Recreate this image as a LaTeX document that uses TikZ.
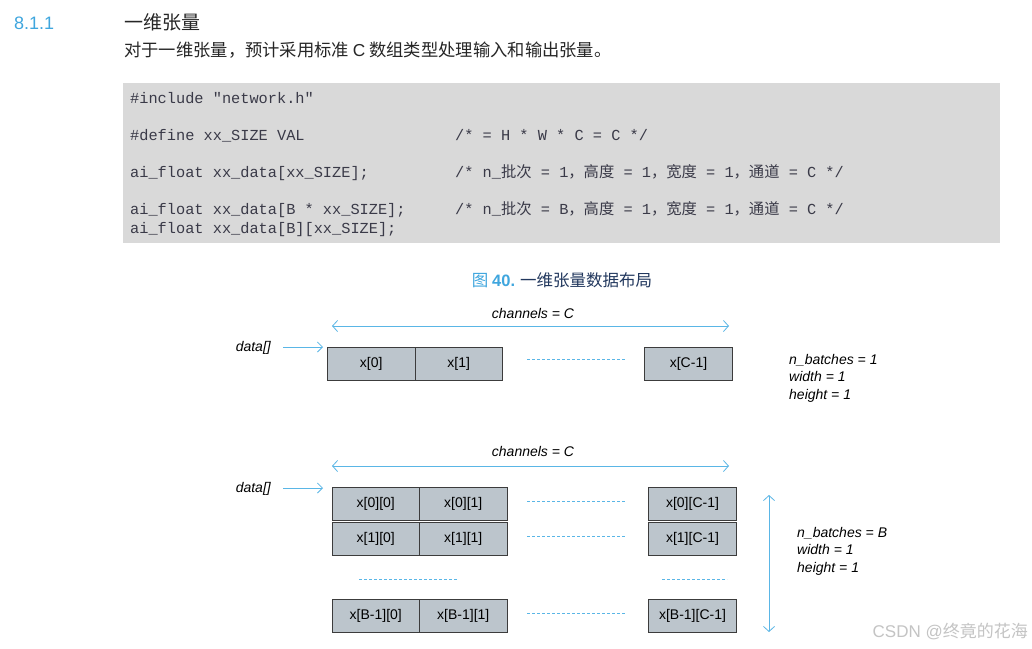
\documentclass[tikz,border=0pt]{standalone}
\usepackage{fontspec}
\setmainfont{Liberation Sans}
\setmonofont{Liberation Mono}
\newfontfamily\cjk{Noto Sans CJK SC}
\usetikzlibrary{arrows.meta}
\definecolor{headblue}{HTML}{3FA6DE}
\definecolor{capnavy}{HTML}{22385E}
\definecolor{bodytext}{HTML}{262626}
\definecolor{codebg}{HTML}{D9D9D9}
\definecolor{codetext}{HTML}{3A3A48}
\definecolor{cellfill}{HTML}{BCC5CC}
\definecolor{cellline}{HTML}{3C3C3C}
\definecolor{lineblue}{HTML}{5AB6E6}
\definecolor{wmgray}{HTML}{C4C4C4}
\tikzset{
  cell/.style={draw=cellline, line width=0.9pt, fill=cellfill, minimum width=87.5pt, minimum height=33pt, inner sep=0pt, font=\fontsize{14}{16}\selectfont},
  codeline/.style={anchor=base west, inner sep=0pt, text=codetext, font=\ttfamily\fontsize{15.3}{17}\selectfont},
  dimarrow/.style={draw=lineblue, line width=0.8pt, {Straight Barb[length=5pt,width=11pt]}-{Straight Barb[length=5pt,width=11pt]}},
  ptrarrow/.style={draw=lineblue, line width=0.8pt, -{Straight Barb[length=5pt,width=10pt]}},
  dotline/.style={draw=lineblue, line width=0.8pt, dash pattern=on 3pt off 2pt},
  itlabel/.style={inner sep=0pt, font=\itshape\fontsize{14}{17.4}\selectfont},
  paramtext/.style={anchor=north west, inner sep=0pt, align=left, font=\itshape\fontsize{14}{17.4}\selectfont}
}
\begin{document}
\begin{tikzpicture}[x=1pt,y=-1pt]
\useasboundingbox[fill=white] (0,0) rectangle (1032,648);
% heading
\node[anchor=base west, inner sep=0pt, text=headblue, font=\fontsize{18}{20}\selectfont] (secnum) at (14,29) {8.1.1};
\node[anchor=base west, inner sep=0pt, text=bodytext, font=\cjk\fontsize{19}{22}\selectfont] (sectitle) at (124,29) {一维张量};
\node[anchor=base west, inner sep=0pt, text=bodytext, font=\cjk\fontsize{17.3}{20}\selectfont] (intro) at (124,56) {对于一维张量，预计采用标准 {\fontspec{Liberation Sans}C} 数组类型处理输入和输出张量。};
% code box
\fill[codebg] (123,83) rectangle (1000,243);
\node[codeline] (c1) at (130,103) {\#include "network.h"};
\node[codeline] (c2) at (130,140) {\#define xx\_SIZE VAL};
\node[codeline] (c3) at (130,177) {ai\_float xx\_data[xx\_SIZE];};
\node[codeline] (c4) at (130,214) {ai\_float xx\_data[B * xx\_SIZE];};
\node[codeline] (c5) at (130,233) {ai\_float xx\_data[B][xx\_SIZE];};
\node[codeline] (m2) at (455,140) {/* = H * W * C = C */};
\node[codeline] (m3) at (455,177) {/* n\_{\cjk 批次} = 1{\cjk ，}{\cjk 高度} = 1{\cjk ，}{\cjk 宽度} = 1{\cjk ，}{\cjk 通道} = C */};
\node[codeline] (m4) at (455,214) {/* n\_{\cjk 批次} = B{\cjk ，}{\cjk 高度} = 1{\cjk ，}{\cjk 宽度} = 1{\cjk ，}{\cjk 通道} = C */};
% caption
\node[anchor=base, inner sep=0pt, font=\cjk\fontsize{16.5}{20}\selectfont] (caption) at (562,286) {{\color{headblue}图 {\fontspec{Liberation Sans}\bfseries 40.}} {\color{capnavy}一维张量数据布局}};
% ---------- diagram 1
\node[itlabel] (ch1) at (533,313) {channels = C};
\coordinate (ch1l) at (332,326);
\coordinate (ch1r) at (729,326);
\draw[dimarrow] (ch1l) -- (ch1r);
\node[itlabel, anchor=east] (d1) at (271,348) {data[]};
\coordinate (d1tip) at (323,347);
\draw[ptrarrow] (283,347) -- (d1tip);
\node[cell] (a0) at (371.25,363.5) {x[0]};
\node[cell] (a1) at (458.75,363.5) {x[1]};
\node[cell] (aC) at (688.5,363.5) {x[C-1]};
\draw[dotline] (527,359) -- (625,359);
\node[paramtext] (p1) at (789,354) {n\_batches = 1\\width = 1\\height = 1};
% ---------- diagram 2
\node[itlabel] (ch2) at (533,451) {channels = C};
\coordinate (ch2l) at (332,466);
\coordinate (ch2r) at (729,466);
\draw[dimarrow] (ch2l) -- (ch2r);
\node[itlabel, anchor=east] (d2) at (271,489) {data[]};
\coordinate (d2tip) at (323,488);
\draw[ptrarrow] (283,488) -- (d2tip);
\node[cell] (r00) at (375.75,503.5) {x[0][0]};
\node[cell] (r01) at (463.25,503.5) {x[0][1]};
\node[cell] (r0C) at (692.5,503.5) {x[0][C-1]};
\node[cell] (r10) at (375.75,538.5) {x[1][0]};
\node[cell] (r11) at (463.25,538.5) {x[1][1]};
\node[cell] (r1C) at (692.5,538.5) {x[1][C-1]};
\node[cell] (rB0) at (375.75,615.5) {x[B-1][0]};
\node[cell] (rB1) at (463.25,615.5) {x[B-1][1]};
\node[cell] (rBC) at (692.5,615.5) {x[B-1][C-1]};
\draw[dotline] (527,501) -- (625,501);
\draw[dotline] (527,536) -- (625,536);
\draw[dotline] (527,613) -- (625,613);
\draw[dotline] (359,579) -- (457,579);
\draw[dotline] (662,579) -- (727,579);
\coordinate (bt) at (769,495);
\coordinate (bb) at (769,632);
\draw[dimarrow] (bt) -- (bb);
\node[paramtext] (p2) at (797,527) {n\_batches = B\\width = 1\\height = 1};
% watermark
\node[anchor=base east, inner sep=0pt, text=wmgray, font=\fontsize{17}{20}\selectfont] (wm) at (1028,637) {CSDN @{\cjk 终竟的花海}};
\end{tikzpicture}
\end{document}
